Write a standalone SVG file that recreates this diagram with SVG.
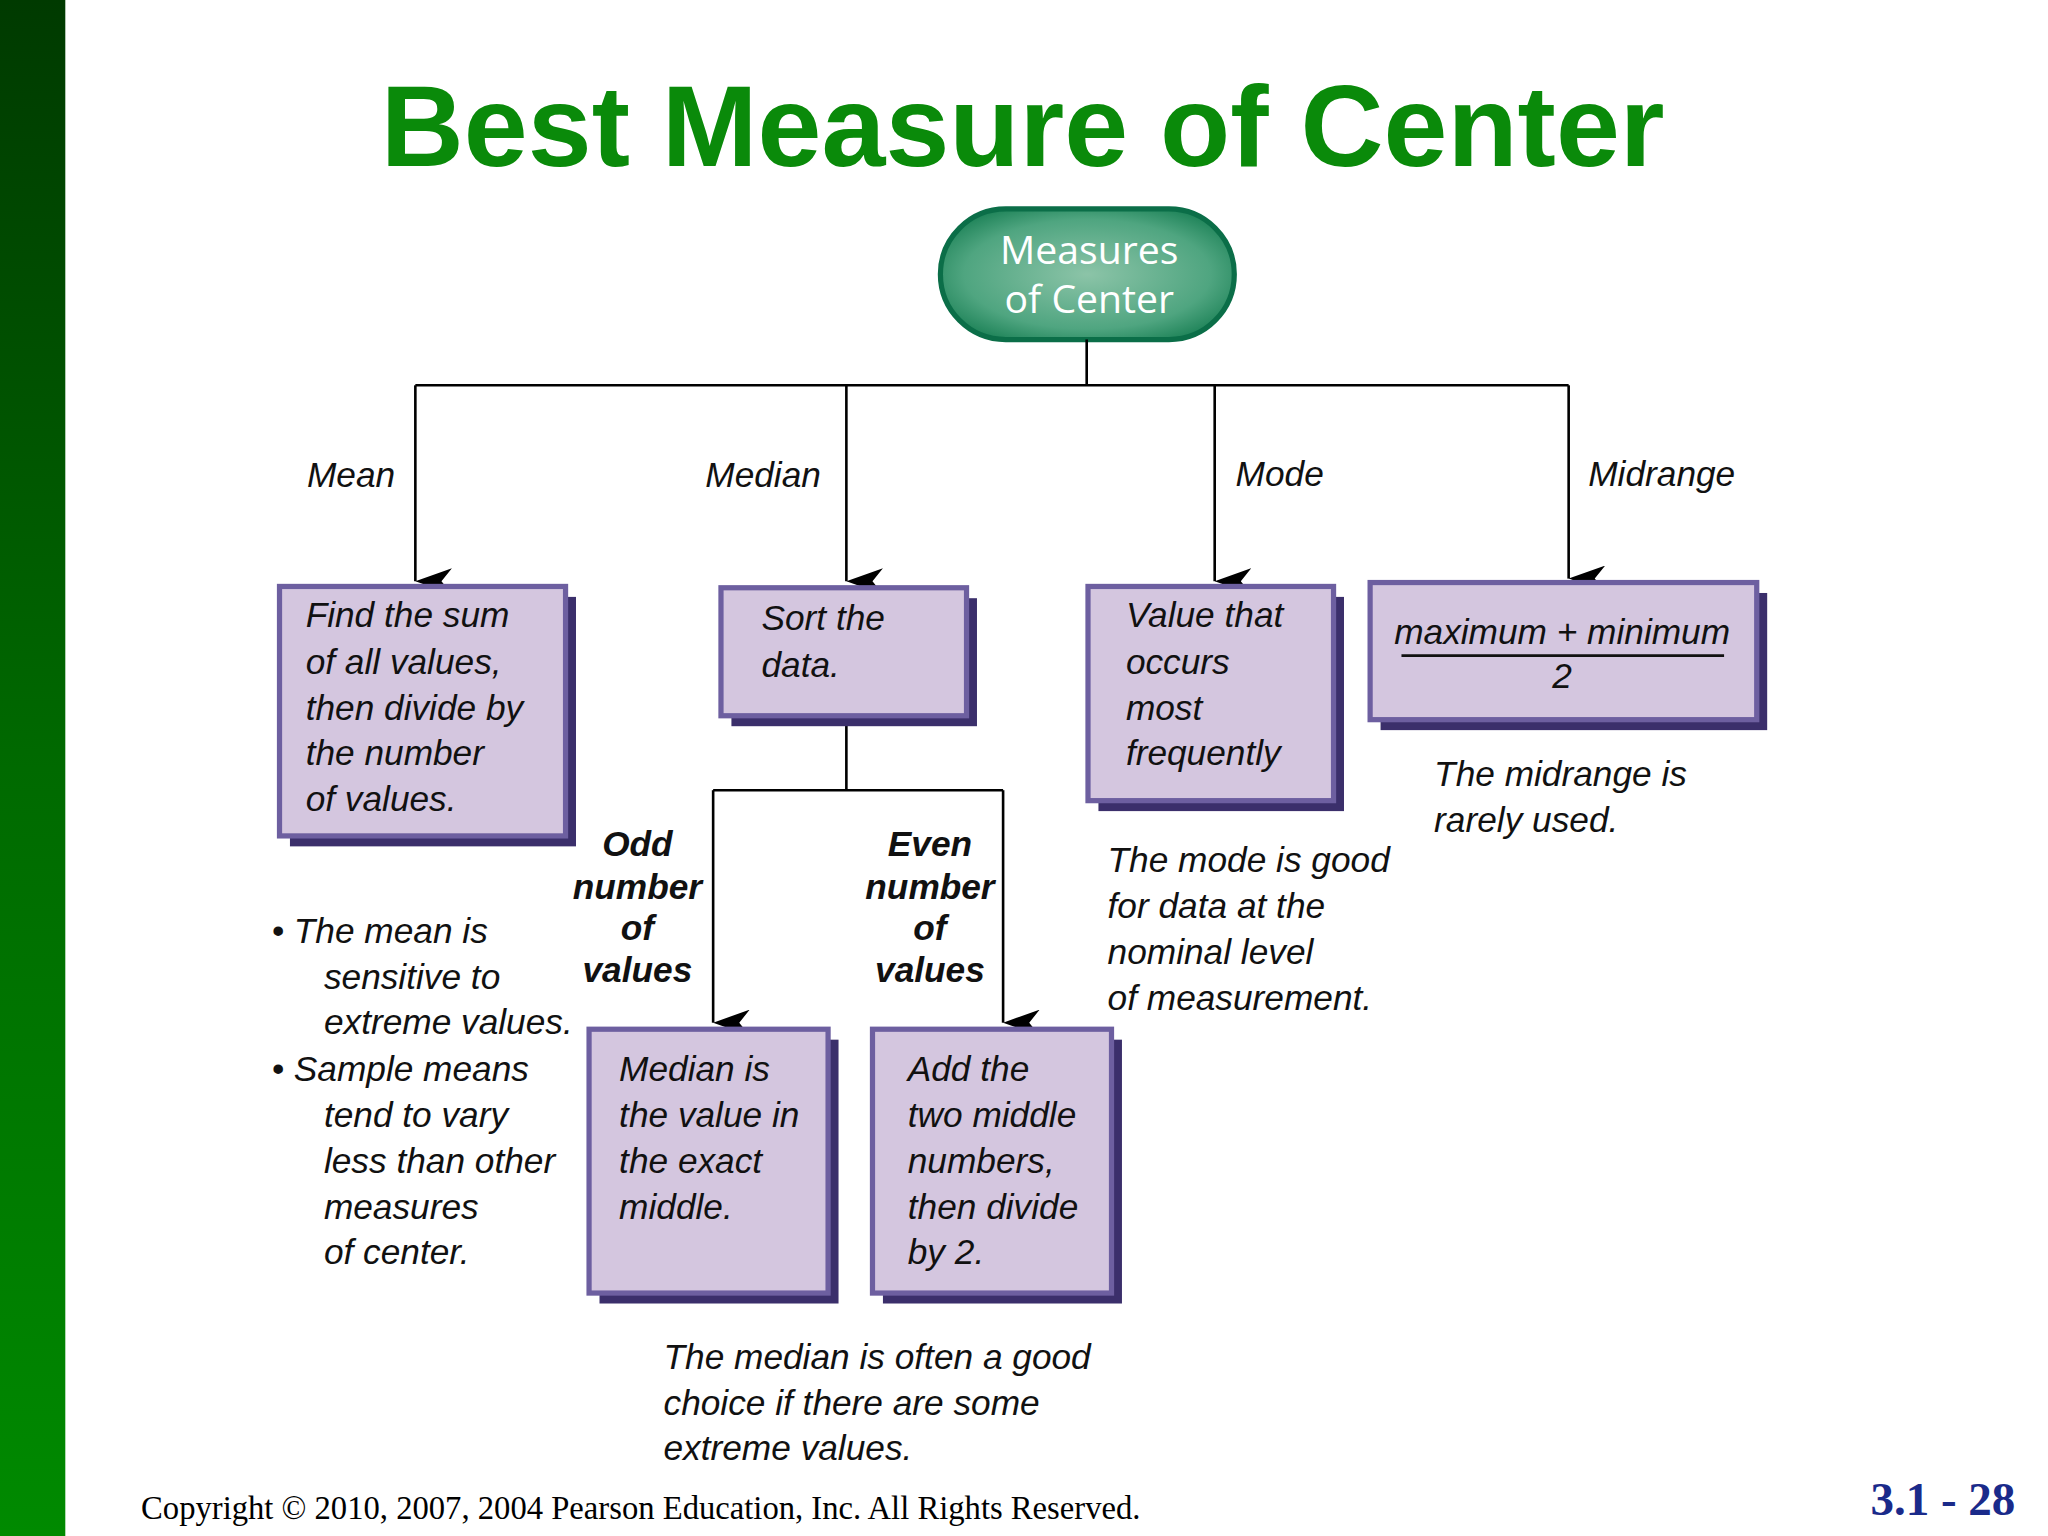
<svg xmlns="http://www.w3.org/2000/svg" width="2048" height="1536" viewBox="0 0 2048 1536">
<defs>
<linearGradient id="bar" x1="0" y1="0" x2="0" y2="1"><stop offset="0" stop-color="#003a00"/><stop offset="0.5" stop-color="#006a00"/><stop offset="1" stop-color="#008a00"/></linearGradient>
<radialGradient id="root" cx="0.5" cy="0.5" r="0.6"><stop offset="0" stop-color="#8cc4a8"/><stop offset="0.7" stop-color="#4fa580"/><stop offset="1" stop-color="#1a8055"/></radialGradient>
<marker id="ah" viewBox="0 0 10 14" refX="5" refY="14" markerWidth="10" markerHeight="14" markerUnits="userSpaceOnUse" orient="auto-start-reverse"><path d="M0,0 L5,3 L10,0 L5,14 Z" fill="#000"/></marker>
<marker id="arr" viewBox="0 0 20 30" refX="10" refY="28" markerWidth="20" markerHeight="30" markerUnits="userSpaceOnUse" orient="auto"><path d="M0,0 L10,28 L20,0 L10,8 Z" fill="#000"/></marker>
</defs>
<style>
.t{font-family:"Liberation Sans",Arial,sans-serif;font-style:italic;font-size:27px;fill:#111}
.b{font-weight:bold;text-anchor:middle}
.sh{fill:#3b2f6b}
.bx{fill:#d4c6df;stroke:#6d5fa0;stroke-width:4}
.ln{stroke:#000;stroke-width:2;fill:none}
</style>
<rect width="2048" height="1536" fill="#fff"/>
<g transform="scale(1.30612)">
<rect x="0" y="0" width="50" height="1176" fill="url(#bar)"/>
<text x="783" y="127" text-anchor="middle" font-family="Liberation Sans,Arial,sans-serif" font-weight="bold" font-size="88" fill="#0a8a0a">Best Measure of  Center</text>
<g id="root-node"><rect x="720" y="160" width="225" height="100" rx="50" fill="url(#root)" stroke="#0b6e48" stroke-width="4"/>
<text x="834" y="202" text-anchor="middle" font-family="Open Sans,sans-serif" font-size="30" fill="#fff">Measures</text>
<text x="834" y="240" text-anchor="middle" font-family="Open Sans,sans-serif" font-size="30" fill="#fff">of Center</text></g>
<g id="connectors">
<path class="ln" d="M832,260 V295 M318,295 H1201"/>
<path class="ln" d="M318,295 V445" marker-end="url(#arr)"/>
<path class="ln" d="M648,295 V445" marker-end="url(#arr)"/>
<path class="ln" d="M930,295 V445" marker-end="url(#arr)"/>
<path class="ln" d="M1201,295 V443" marker-end="url(#arr)"/>
<path class="ln" d="M648,550 V605 M546,605 H768"/>
<path class="ln" d="M546,605 V783" marker-end="url(#arr)"/>
<path class="ln" d="M768,605 V783" marker-end="url(#arr)"/>
</g>
<g id="labels">
<text class="t" x="235" y="373">Mean</text>
<text class="t" x="540" y="373">Median</text>
<text class="t" x="946" y="372">Mode</text>
<text class="t" x="1216" y="372">Midrange</text>
</g>
<g id="mean-box"><rect class="sh" x="222" y="457" width="219" height="191"/><rect class="bx" x="214" y="449" width="219" height="191"/>
<text class="t" x="234" y="480">Find the sum</text><text class="t" x="234" y="516">of all values,</text><text class="t" x="234" y="551">then divide by</text><text class="t" x="234" y="586">the number</text><text class="t" x="234" y="621">of values.</text></g>
<g id="sort-box"><rect class="sh" x="560" y="458" width="188" height="98"/><rect class="bx" x="552" y="450" width="188" height="98"/>
<text class="t" x="583" y="482">Sort the</text><text class="t" x="583" y="518">data.</text></g>
<g id="mode-box"><rect class="sh" x="841" y="457" width="188" height="164"/><rect class="bx" x="833" y="449" width="188" height="164"/>
<text class="t" x="862" y="480">Value that</text><text class="t" x="862" y="516">occurs</text><text class="t" x="862" y="551">most</text><text class="t" x="862" y="586">frequently</text></g>
<g id="midrange-box"><rect class="sh" x="1057" y="454" width="296" height="105"/><rect class="bx" x="1049" y="446" width="296" height="105"/>
<text class="t" x="1196" y="493" text-anchor="middle" font-size="25">maximum + minimum</text>
<line x1="1073" y1="502" x2="1320" y2="502" stroke="#111" stroke-width="2"/>
<text class="t" x="1196" y="527" text-anchor="middle">2</text></g>
<g id="odd-label"><text class="t b" x="488" y="655">Odd</text><text class="t b" x="488" y="688">number</text><text class="t b" x="488" y="720">of</text><text class="t b" x="488" y="752">values</text></g>
<g id="even-label"><text class="t b" x="712" y="655">Even</text><text class="t b" x="712" y="688">number</text><text class="t b" x="712" y="720">of</text><text class="t b" x="712" y="752">values</text></g>
<g id="median-box"><rect class="sh" x="459" y="796" width="183" height="202"/><rect class="bx" x="451" y="788" width="183" height="202"/>
<text class="t" x="474" y="828">Median is</text><text class="t" x="474" y="863">the value in</text><text class="t" x="474" y="898">the exact</text><text class="t" x="474" y="933">middle.</text></g>
<g id="add-box"><rect class="sh" x="676" y="796" width="183" height="202"/><rect class="bx" x="668" y="788" width="183" height="202"/>
<text class="t" x="695" y="828">Add the</text><text class="t" x="695" y="863">two middle</text><text class="t" x="695" y="898">numbers,</text><text class="t" x="695" y="933">then divide</text><text class="t" x="695" y="968">by 2.</text></g>
<g id="mean-notes">
<text class="t" x="208" y="722">• The mean is</text><text class="t" x="248" y="757">sensitive to</text><text class="t" x="248" y="792">extreme values.</text>
<text class="t" x="208" y="828">• Sample means</text><text class="t" x="248" y="863">tend to vary</text><text class="t" x="248" y="898">less than other</text><text class="t" x="248" y="933">measures</text><text class="t" x="248" y="968">of center.</text></g>
<g id="mode-note"><text class="t" x="848" y="668">The mode is good</text><text class="t" x="848" y="703">for data at the</text><text class="t" x="848" y="738">nominal level</text><text class="t" x="848" y="773">of measurement.</text></g>
<g id="midrange-note"><text class="t" x="1098" y="602">The midrange is</text><text class="t" x="1098" y="637">rarely used.</text></g>
<g id="median-note"><text class="t" x="508" y="1048">The median is often a good</text><text class="t" x="508" y="1083">choice if there are some</text><text class="t" x="508" y="1118">extreme values.</text></g>
<text x="108" y="1163" font-family="Liberation Serif,serif" font-size="25" fill="#000">Copyright © 2010, 2007, 2004 Pearson Education, Inc. All Rights Reserved.</text>
<text x="1543" y="1160" text-anchor="end" font-family="Liberation Serif,serif" font-weight="bold" font-size="36" fill="#1a2a8a">3.1 - 28</text>
</g>
</svg>
